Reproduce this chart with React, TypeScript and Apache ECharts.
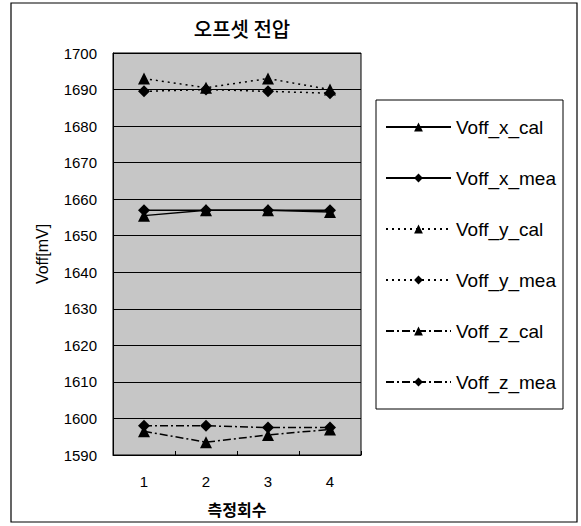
import React, { useEffect, useRef } from "react";
import * as echarts from "echarts";

const categories = ["1", "2", "3", "4"];
const seriesNames = ["Voff_x_cal", "Voff_x_mea", "Voff_y_cal", "Voff_y_mea", "Voff_z_cal", "Voff_z_mea"];
const voffXCal = [1655.5, 1657, 1657, 1656.5];
const voffXMea = [1657, 1657, 1657, 1657];
const voffYCal = [1693, 1690.5, 1693, 1690];
const voffYMea = [1689.5, 1690, 1689.5, 1689];
const voffZCal = [1596.5, 1593.5, 1595.5, 1597];
const voffZMea = [1598, 1598, 1597.5, 1597.5];

const latin = "'Liberation Sans', Arial, sans-serif";
const korean = "'Noto Sans CJK KR', 'Noto Sans', sans-serif";

export default function App() {
  const ref = useRef<HTMLDivElement>(null);
  useEffect(() => {
    if (!ref.current) return;
    const chart = echarts.init(ref.current, undefined, { renderer: "svg" });
    const solid: any = "solid";
    const dotted: any = [2, 4];
    const dashDot: any = [8, 3, 2, 3];
    const mk = (name: string, data: number[], symbol: string, type: any) => ({
      name,
      type: "line",
      data,
      symbol,
      symbolSize: 12,
      showSymbol: true,
      itemStyle: { color: "#000" },
      lineStyle: { color: "#000", width: 1.5, type },
      z: 3,
    });
    chart.setOption({
      animation: false,
      backgroundColor: "#fff",
      graphic: [
        {
          type: "rect",
          shape: { x: 11, y: 3, width: 566, height: 519 },
          style: { fill: "none", stroke: "#000", lineWidth: 1.2 },
          silent: true,
        },
        {
          type: "rect",
          shape: { x: 376, y: 100, width: 187, height: 309 },
          style: { fill: "#fff", stroke: "#000", lineWidth: 1 },
          silent: true,
          z: -1,
        },
        {
          type: "text",
          x: 242,
          y: 28,
          style: {
            text: "오프셋 전압",
            font: `500 20px ${korean}`,
            fill: "#000",
            textAlign: "center",
            textVerticalAlign: "middle",
          },
        },
      ],
      legend: {
        orient: "vertical",
        left: 385,
        top: 116,
        padding: 0,
        itemWidth: 65,
        itemHeight: 11,
        itemGap: 29,
        itemTextGap: 5,
        data: seriesNames,
        textStyle: { fontFamily: latin, fontSize: 19, color: "#000", lineHeight: 22 },
        selectedMode: false,
      },
      grid: {
        left: 113,
        top: 53,
        width: 248,
        height: 402,
        show: true,
        backgroundColor: "#c6c6c6",
        borderColor: "#000",
        borderWidth: 1,
      },
      xAxis: {
        type: "category",
        data: categories,
        boundaryGap: true,
        name: "측정회수",
        nameLocation: "middle",
        nameGap: 46,
        nameTextStyle: { fontFamily: korean, fontSize: 16, fontWeight: "bold", color: "#000" },
        axisLine: { lineStyle: { color: "#000", width: 1 } },
        axisTick: { show: true, inside: true, length: 4, lineStyle: { color: "#000" } },
        axisLabel: { fontFamily: latin, fontSize: 15, color: "#000", margin: 19 },
      },
      yAxis: {
        type: "value",
        min: 1590,
        max: 1700,
        interval: 10,
        name: "Voff[mV]",
        nameLocation: "middle",
        nameGap: 63,
        nameTextStyle: { fontFamily: latin, fontSize: 16, color: "#000" },
        axisLine: { show: true, lineStyle: { color: "#000", width: 1 } },
        axisTick: { show: false },
        axisLabel: {
          fontFamily: latin,
          fontSize: 15,
          color: "#000",
          margin: 16,
          formatter: (v: number) => String(v),
        },
        splitLine: { show: true, lineStyle: { color: "#000", width: 1 } },
      },
      series: [
        mk(seriesNames[0], voffXCal, "triangle", solid),
        mk(seriesNames[1], voffXMea, "diamond", solid),
        mk(seriesNames[2], voffYCal, "triangle", dotted),
        mk(seriesNames[3], voffYMea, "diamond", dotted),
        mk(seriesNames[4], voffZCal, "triangle", dashDot),
        mk(seriesNames[5], voffZMea, "diamond", dashDot),
      ],
    });
    return () => chart.dispose();
  }, []);
  return (
    <div
      ref={ref}
      style={{ position: "absolute", left: 0, top: 0, width: 581, height: 526 }}
    />
  );
}
